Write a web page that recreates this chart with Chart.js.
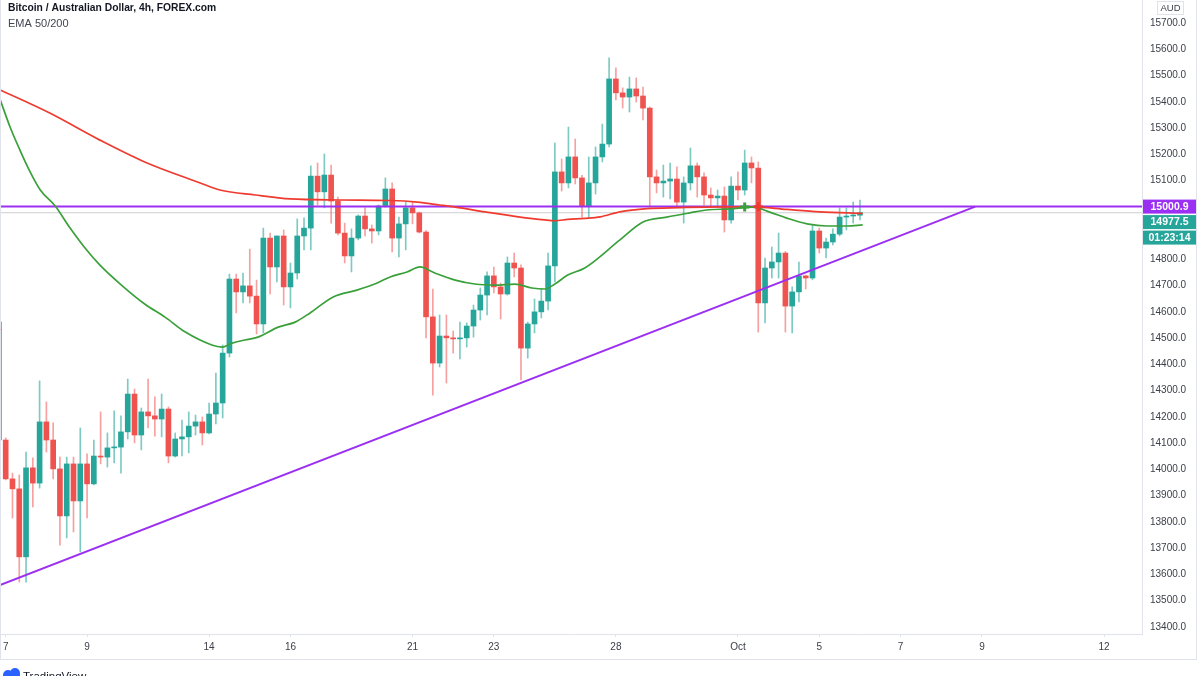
<!DOCTYPE html>
<html>
<head>
<meta charset="utf-8">
<script src="https://cdn.jsdelivr.net/npm/chart.js@4.4.0/dist/chart.umd.min.js"></script>
<style>
html,body{margin:0;padding:0;background:#fff;}
#wrap{position:relative;width:1200px;height:676px;overflow:hidden;background:#fff;}
canvas{display:block;}
</style>
</head>
<body>
<div id="wrap"><canvas id="c" width="1200" height="676"></canvas></div>
<script>
// ---------------- DATA ----------------
const titleText = "Bitcoin / Australian Dollar, 4h, FOREX.com";
const subtitleText = "EMA 50/200";
const currencyText = "AUD";

// first candle slot (index of the first, partly hidden candle); one slot per 4h candle
const firstCandle = -1;

const open = [
14561,
14112,13964,13926,13667,14006,13948,14181,14112,14002,13823,
14021,13880,14021,13945,14051,14047,14082,14085,14143,14287,
14131,14219,14204,14192,14230,14051,14116,14124,14165,14181,
14139,14211,14253,14443,14725,14676,14699,14660,14554,14881,
14771,14889,14695,14748,14889,14919,15117,15057,15121,15022,
14900,14813,14881,14965,14916,14908,15003,15068,14881,14935,
14996,14977,14904,14581,14405,14508,14501,14497,14501,14546,
14607,14664,14737,14695,14668,14786,14767,14462,14554,14600,
14641,14775,15133,15091,15190,15110,15003,15091,15190,15239,
15487,15434,15418,15449,15422,15376,15114,15091,15098,15106,
15018,15091,15156,15114,15045,15034,15041,14950,15079,15064,
15167,15148,14634,14767,14790,14824,14622,14676,14737,14729,
14908,14843,14866,14896,14961,14965,14968
];
const high = [
14580,
14120,13986,13979,14066,14044,14337,14257,14177,14047,14047,
14047,14158,14059,14112,14219,14139,14223,14204,14344,14306,
14234,14344,14276,14287,14238,14139,14188,14219,14207,14200,
14253,14367,14474,14744,14744,14748,14839,14721,14919,14900,
14889,14912,14786,14954,14958,15156,15167,15201,15159,15037,
14938,14916,14969,14996,14931,15007,15110,15091,14961,15018,
15018,14980,14910,14687,14588,14588,14527,14561,14558,14626,
14691,14752,14771,14710,14809,14824,14779,14561,14649,14687,
14824,15243,15182,15304,15258,15120,15190,15228,15315,15567,
15529,15453,15494,15491,15456,15380,15140,15159,15167,15152,
15114,15224,15167,15129,15072,15064,15076,15114,15133,15216,
15190,15171,14805,14847,14900,14830,14695,14790,14740,14931,
14919,14881,14916,14996,14996,15018,15026
];
const low = [
14100,
13960,13815,13571,13571,13857,13929,14066,13964,13712,13739,
13762,13686,13815,13941,14021,14009,14025,13986,14116,14101,
14074,14158,14127,14124,14025,14047,14051,14063,14131,14093,
14135,14173,14196,14428,14596,14634,14634,14516,14520,14668,
14714,14626,14615,14725,14836,14836,15007,14996,14938,14893,
14786,14752,14874,14889,14862,14893,14999,14828,14809,14836,
14935,14900,14501,14283,14390,14329,14443,14421,14466,14504,
14569,14588,14672,14573,14664,14733,14341,14424,14520,14577,
14607,14714,15060,15072,15087,14961,14961,15049,15171,15228,
15407,15376,15361,15399,15331,14999,15053,15037,15030,14999,
14938,15064,15037,15007,14999,14999,14904,14938,15026,15045,
15091,14523,14558,14729,14729,14523,14520,14638,14687,14722,
14824,14805,14855,14889,14912,14938,14950
];
const close = [
14112,
13964,13926,13667,14006,13948,14181,14112,14002,13823,14021,
13880,14021,13945,14051,14047,14082,14085,14143,14287,14131,
14219,14204,14192,14230,14051,14116,14124,14165,14181,14139,
14211,14253,14443,14725,14676,14699,14660,14554,14881,14771,
14889,14695,14748,14889,14919,15117,15057,15121,15022,14900,
14813,14881,14965,14916,14908,15003,15068,14881,14935,14996,
14977,14904,14581,14405,14508,14501,14497,14501,14546,14607,
14664,14737,14695,14668,14786,14767,14462,14554,14600,14641,
14775,15133,15091,15190,15110,15003,15091,15190,15239,15487,
15434,15418,15449,15422,15376,15114,15091,15098,15106,15018,
15091,15156,15114,15045,15034,15041,14950,15079,15064,15167,
15148,14634,14767,14790,14824,14622,14676,14737,14729,14908,
14843,14866,14896,14961,14965,14968,14977.5
];

// EMA 200 (red) read at sample slots
const ema200X = [-0.8,6.5,13.9,20.5,28.7,31.6,36.8,42,49.3,56.7,60.7,64,66.3,70.7,75.6,79.5,81,82.9,85.4,87.7,90.6,94.6,99.4,105.4,110.2,115.2,120.1,126.4];
const ema200Y = [15445,15357,15254,15171,15091,15064,15045,15030,15026,15024,15018,15007,14999,14981,14962,14950,14947,14952,14956,14962,14981,14993,14997,15000,15000,14990,14981,14975];
// EMA 50 (green) read at sample slots
const ema50X = [-0.8,0.6,2.1,3.6,5.1,7.3,9.5,11.7,13.9,16.9,20.5,23.5,26.5,30.4,31.9,33.4,35.3,37.2,40.2,42.7,44.9,48.3,51.8,54.8,56.7,59.2,61.1,63.3,66.3,69.2,72.2,75.1,77.6,79.5,81.0,82.9,85.4,90.6,94.0,97.5,100.9,103.4,106.8,110.2,112.7,115.2,118.2,121.1,124.1,126.4];
const ema50Y = [15407,15307,15216,15133,15064,15003,14919,14843,14778,14706,14630,14580,14523,14474,14466,14481,14493,14504,14542,14561,14596,14657,14683,14710,14733,14752,14771,14748,14721,14706,14702,14706,14691,14687,14706,14740,14767,14874,14942,14961,14977,14988,14992,14999,14980,14957,14935,14927,14927,14931];

// drawn trend line (two anchor points) and horizontal level
const trendX = [-0.84, 143];
const trendY = [13560, 15001];
const levelPrice = 15000.9;
const lastPrice = 14977.5;
const countdownText = "01:23:14";

// EMA cross markers
const crossX = [109, 111];
const crossY = [14999, 15000];

// axes
const xTickIndex  = [0, 12, 30, 42, 60, 72, 90, 108, 120, 132, 144, 162];
const xTickLabels = ["7","9","14","16","21","23","28","Oct","5","7","9","12"];
const yTicks = [13400,13500,13600,13700,13800,13900,14000,14100,14200,14300,14400,14500,14600,14700,14800,14900,15000,15100,15200,15300,15400,15500,15600,15700];
const xMin = -0.841, xMax = 167.6;
const yMin = 13373.3, yMax = 15787.6;

// ---------------- STYLE ----------------
const UP = '#26a69a', DOWN = '#ef5350';
const UP_WICK = 'rgba(38,166,154,0.6)', DOWN_WICK = 'rgba(239,83,80,0.55)';
const RED_EMA = '#ef3b2f', GREEN_EMA = '#3aa03a';
const PURPLE = '#9b2ff2';
const FONT = '"Liberation Sans", Arial, sans-serif';
const TXT = '#3b3e48';

const idx = open.map((_, k) => firstCandle + k);
const isUp = open.map((o, k) => close[k] >= o);

const wickData = idx.map((x, k) => ({x: x, y: [low[k], high[k]]}));
const bodyData = idx.map((x, k) => ({x: x, y: [open[k], close[k]]}));
const toXY = (xs, ys) => xs.map((x, k) => ({x: x, y: ys[k]}));

Chart.defaults.font.family = FONT;

const overlay = {
  id: 'overlay',
  beforeDraw(chart) {
    const ctx = chart.ctx;
    ctx.save();
    ctx.fillStyle = '#fff';
    ctx.fillRect(0, 0, chart.width, chart.height);
    ctx.restore();
  },
  afterDraw(chart) {
    const ctx = chart.ctx;
    const ys = chart.scales.y;
    ctx.save();
    // frame
    ctx.strokeStyle = '#e0e3eb';
    ctx.lineWidth = 1;
    ctx.beginPath();
    ctx.moveTo(0.5, 0); ctx.lineTo(0.5, 659);
    ctx.moveTo(0, 659.5); ctx.lineTo(1197, 659.5);
    ctx.moveTo(1196.5, 0); ctx.lineTo(1196.5, 660);
    ctx.stroke();

    // legend texts
    ctx.textAlign = 'left';
    ctx.textBaseline = 'middle';
    ctx.fillStyle = '#131722';
    ctx.font = 'bold 10.3px ' + FONT;
    ctx.fillText(titleText, 8, 8.5);
    ctx.fillStyle = '#434651';
    ctx.font = '11px ' + FONT;
    ctx.fillText(subtitleText, 8, 23.5);

    // currency box
    ctx.strokeStyle = '#dfe2ea';
    ctx.strokeRect(1157.5, 1.5, 26, 13);
    ctx.fillStyle = TXT;
    ctx.font = '9.5px ' + FONT;
    ctx.textAlign = 'center';
    ctx.fillText(currencyText, 1170.5, 8.5);

    // price boxes
    const yl = ys.getPixelForValue(levelPrice);
    ctx.fillStyle = '#fff';
    ctx.fillRect(1143, yl - 9, 53, 50);
    const box = (yc, text, bg) => {
      ctx.fillStyle = bg;
      ctx.fillRect(1143, yc - 7, 53, 14);
      ctx.fillStyle = '#fff';
      ctx.font = 'bold 10.5px ' + FONT;
      ctx.textAlign = 'center';
      ctx.fillText(text, 1169.5, yc + 0.5);
    };
    box(yl, levelPrice.toFixed(1), PURPLE);
    box(yl + 15.5, lastPrice.toFixed(1), UP);
    box(yl + 31, countdownText, UP);

    // TradingView watermark (cut by the image edge)
    ctx.fillStyle = '#2962ff';
    ctx.beginPath();
    ctx.arc(8, 675, 5, Math.PI, 0);
    ctx.arc(15, 673, 5, Math.PI, 0);
    ctx.lineTo(20, 677); ctx.lineTo(3, 677);
    ctx.closePath();
    ctx.fill();
    ctx.fillStyle = '#131722';
    ctx.textAlign = 'left';
    ctx.textBaseline = 'alphabetic';
    ctx.font = '11.5px ' + FONT;
    ctx.fillText('TradingView', 23, 680);
    ctx.restore();
  }
};

new Chart(document.getElementById('c'), {
  type: 'bar',
  data: {
    datasets: [
      { type: 'line', label: 'cross', data: toXY(crossX, crossY), showLine: false,
        pointStyle: 'cross', pointRadius: 4.5, pointBorderWidth: 3,
        pointBorderColor: [GREEN_EMA, RED_EMA], pointBackgroundColor: [GREEN_EMA, RED_EMA], order: 0 },
      { type: 'line', label: 'EMA 50', data: toXY(ema50X, ema50Y), borderColor: GREEN_EMA, borderWidth: 1.7,
        pointRadius: 0, cubicInterpolationMode: 'monotone', order: 1 },
      { type: 'line', label: 'EMA 200', data: toXY(ema200X, ema200Y), borderColor: RED_EMA, borderWidth: 1.7,
        pointRadius: 0, cubicInterpolationMode: 'monotone', order: 1 },
      { type: 'line', label: 'Level', data: [{x: xMin - 1, y: levelPrice}, {x: xMax + 1, y: levelPrice}],
        borderColor: PURPLE, borderWidth: 2, pointRadius: 0, order: 1 },
      { type: 'line', label: 'Trend', data: toXY(trendX, trendY),
        borderColor: PURPLE, borderWidth: 2, pointRadius: 0, order: 1 },
      { type: 'bar', label: 'Body', data: bodyData, grouped: false, barThickness: 5, minBarLength: 1,
        backgroundColor: isUp.map(u => u ? UP : DOWN), borderWidth: 0, order: 2, clip: 0 },
      { type: 'bar', label: 'Wick', data: wickData, grouped: false, barThickness: 1,
        backgroundColor: isUp.map(u => u ? UP_WICK : DOWN_WICK), borderWidth: 0, order: 3, clip: 0 },
      { type: 'line', label: 'Last', data: [{x: xMin - 1, y: lastPrice}, {x: xMax + 1, y: lastPrice}],
        borderColor: 'rgba(170,170,178,0.55)', borderWidth: 1, pointRadius: 0, order: 4 }
    ]
  },
  options: {
    responsive: false,
    animation: false,
    devicePixelRatio: 1,
    layout: { padding: 0, autoPadding: false },
    plugins: { legend: { display: false }, tooltip: { enabled: false }, title: { display: false } },
    events: [],
    scales: {
      x: {
        type: 'linear', min: xMin, max: xMax, offset: false,
        grid: { display: true, offset: false, drawOnChartArea: false, drawTicks: true, tickLength: 3, color: '#e0e3eb' },
        border: { display: true, color: '#e0e3eb' },
        ticks: {
          padding: 4, color: TXT, font: { size: 10 }, autoSkip: false, maxRotation: 0,
          callback: (v) => { const k = xTickIndex.indexOf(v); return k >= 0 ? xTickLabels[k] : ''; }
        },
        afterBuildTicks: (s) => { s.ticks = xTickIndex.map(v => ({value: v})); },
        afterFit: (s) => { s.height = 42; s.paddingLeft = 0; s.paddingRight = 0; }
      },
      y: {
        type: 'linear', position: 'right', min: yMin, max: yMax,
        grid: { display: false, drawTicks: false },
        border: { display: true, color: '#e0e3eb' },
        ticks: { padding: 8, color: TXT, font: { size: 10 }, autoSkip: false,
          callback: (v) => Number(v).toFixed(1) },
        afterBuildTicks: (s) => { s.ticks = yTicks.map(v => ({value: v})); },
        afterFit: (s) => { s.width = 58; s.paddingTop = 0; s.paddingBottom = 0; }
      }
    }
  },
  plugins: [overlay]
});
</script>
</body>
</html>
